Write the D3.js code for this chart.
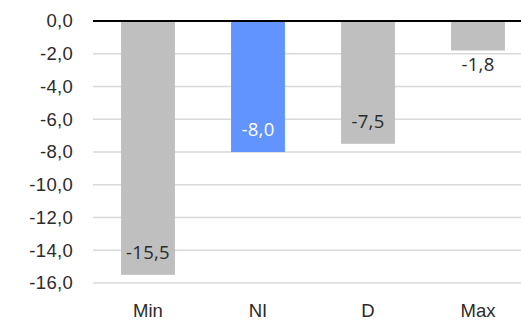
<!DOCTYPE html>
<html>
<head>
<meta charset="utf-8">
<script src="https://cdn.jsdelivr.net/npm/d3@7"></script>
<style>
  html, body { margin: 0; padding: 0; background: #fff; }
  svg { display: block; font-family: "Open Sans", sans-serif; }
</style>
</head>
<body>
<svg id="chart" width="521" height="329"></svg>
<script>
const categories = ["Min", "NI", "D", "Max"];
const values = [-15.5, -8.0, -7.5, -1.8];
const highlight = ["NI"];
const yTicks = [0, -2, -4, -6, -8, -10, -12, -14, -16];

const W = 521, H = 329;
const m = { top: 21, left: 93, right: -12, bottom: 46 };

const svg = d3.select("#chart");
const fmt = v => d3.format(".1f")(v).replace(".", ",").replace("−", "-");

const y = d3.scaleLinear().domain([0, -16]).range([m.top, H - m.bottom]);
const x = d3.scaleBand().domain(categories).range([m.left, W - m.right])
  .paddingInner(0.51).paddingOuter(0.255);

// horizontal gridlines
svg.append("g").selectAll("line").data(yTicks.filter(t => t !== 0)).join("line")
  .attr("x1", m.left).attr("x2", W - m.right)
  .attr("y1", d => y(d)).attr("y2", d => y(d))
  .attr("stroke", "#d9d9d9").attr("stroke-width", 1.5);

// y-axis labels
const yAxis = d3.axisLeft(y).tickValues(yTicks).tickFormat(fmt).tickSize(0).tickPadding(0);
svg.append("g").attr("transform", `translate(${m.left - 20},0)`).call(yAxis)
  .call(g => g.select(".domain").remove())
  .call(g => g.selectAll("text").attr("fill", "#2b2b2b").attr("font-size", 18.5)
    .attr("letter-spacing", "0.3px"));

// bars
svg.append("g").selectAll("rect").data(categories).join("rect")
  .attr("x", d => x(d))
  .attr("width", x.bandwidth())
  .attr("y", y(0))
  .attr("height", (d, i) => y(values[i]) - y(0))
  .attr("fill", d => highlight.includes(d) ? "#6194ff" : "#bfbfbf");

// zero baseline
svg.append("line")
  .attr("x1", m.left).attr("x2", W - m.right)
  .attr("y1", y(0)).attr("y2", y(0))
  .attr("stroke", "#000").attr("stroke-width", 2);

// value labels: inside the bar end, or just below a short bar
svg.append("g").selectAll("text").data(categories).join("text")
  .attr("x", d => x(d) + x.bandwidth() / 2)
  .attr("y", (d, i) => {
    const end = y(values[i]);
    return (end - y(0) > 40) ? end - 16 : end + 21;
  })
  .attr("text-anchor", "middle")
  .attr("font-size", 18.5)
  .attr("letter-spacing", "0.3px")
  .attr("fill", d => highlight.includes(d) ? "#ffffff" : "#2b2b2b")
  .text((d, i) => fmt(values[i]));

// category labels
const xAxis = d3.axisBottom(x).tickSize(0).tickPadding(0);
svg.append("g").attr("transform", `translate(0,${H - 12})`).call(xAxis)
  .call(g => g.select(".domain").remove())
  .call(g => g.selectAll("text").attr("dy", 0).attr("fill", "#2b2b2b")
    .attr("font-size", 18.5));
</script>
</body>
</html>
